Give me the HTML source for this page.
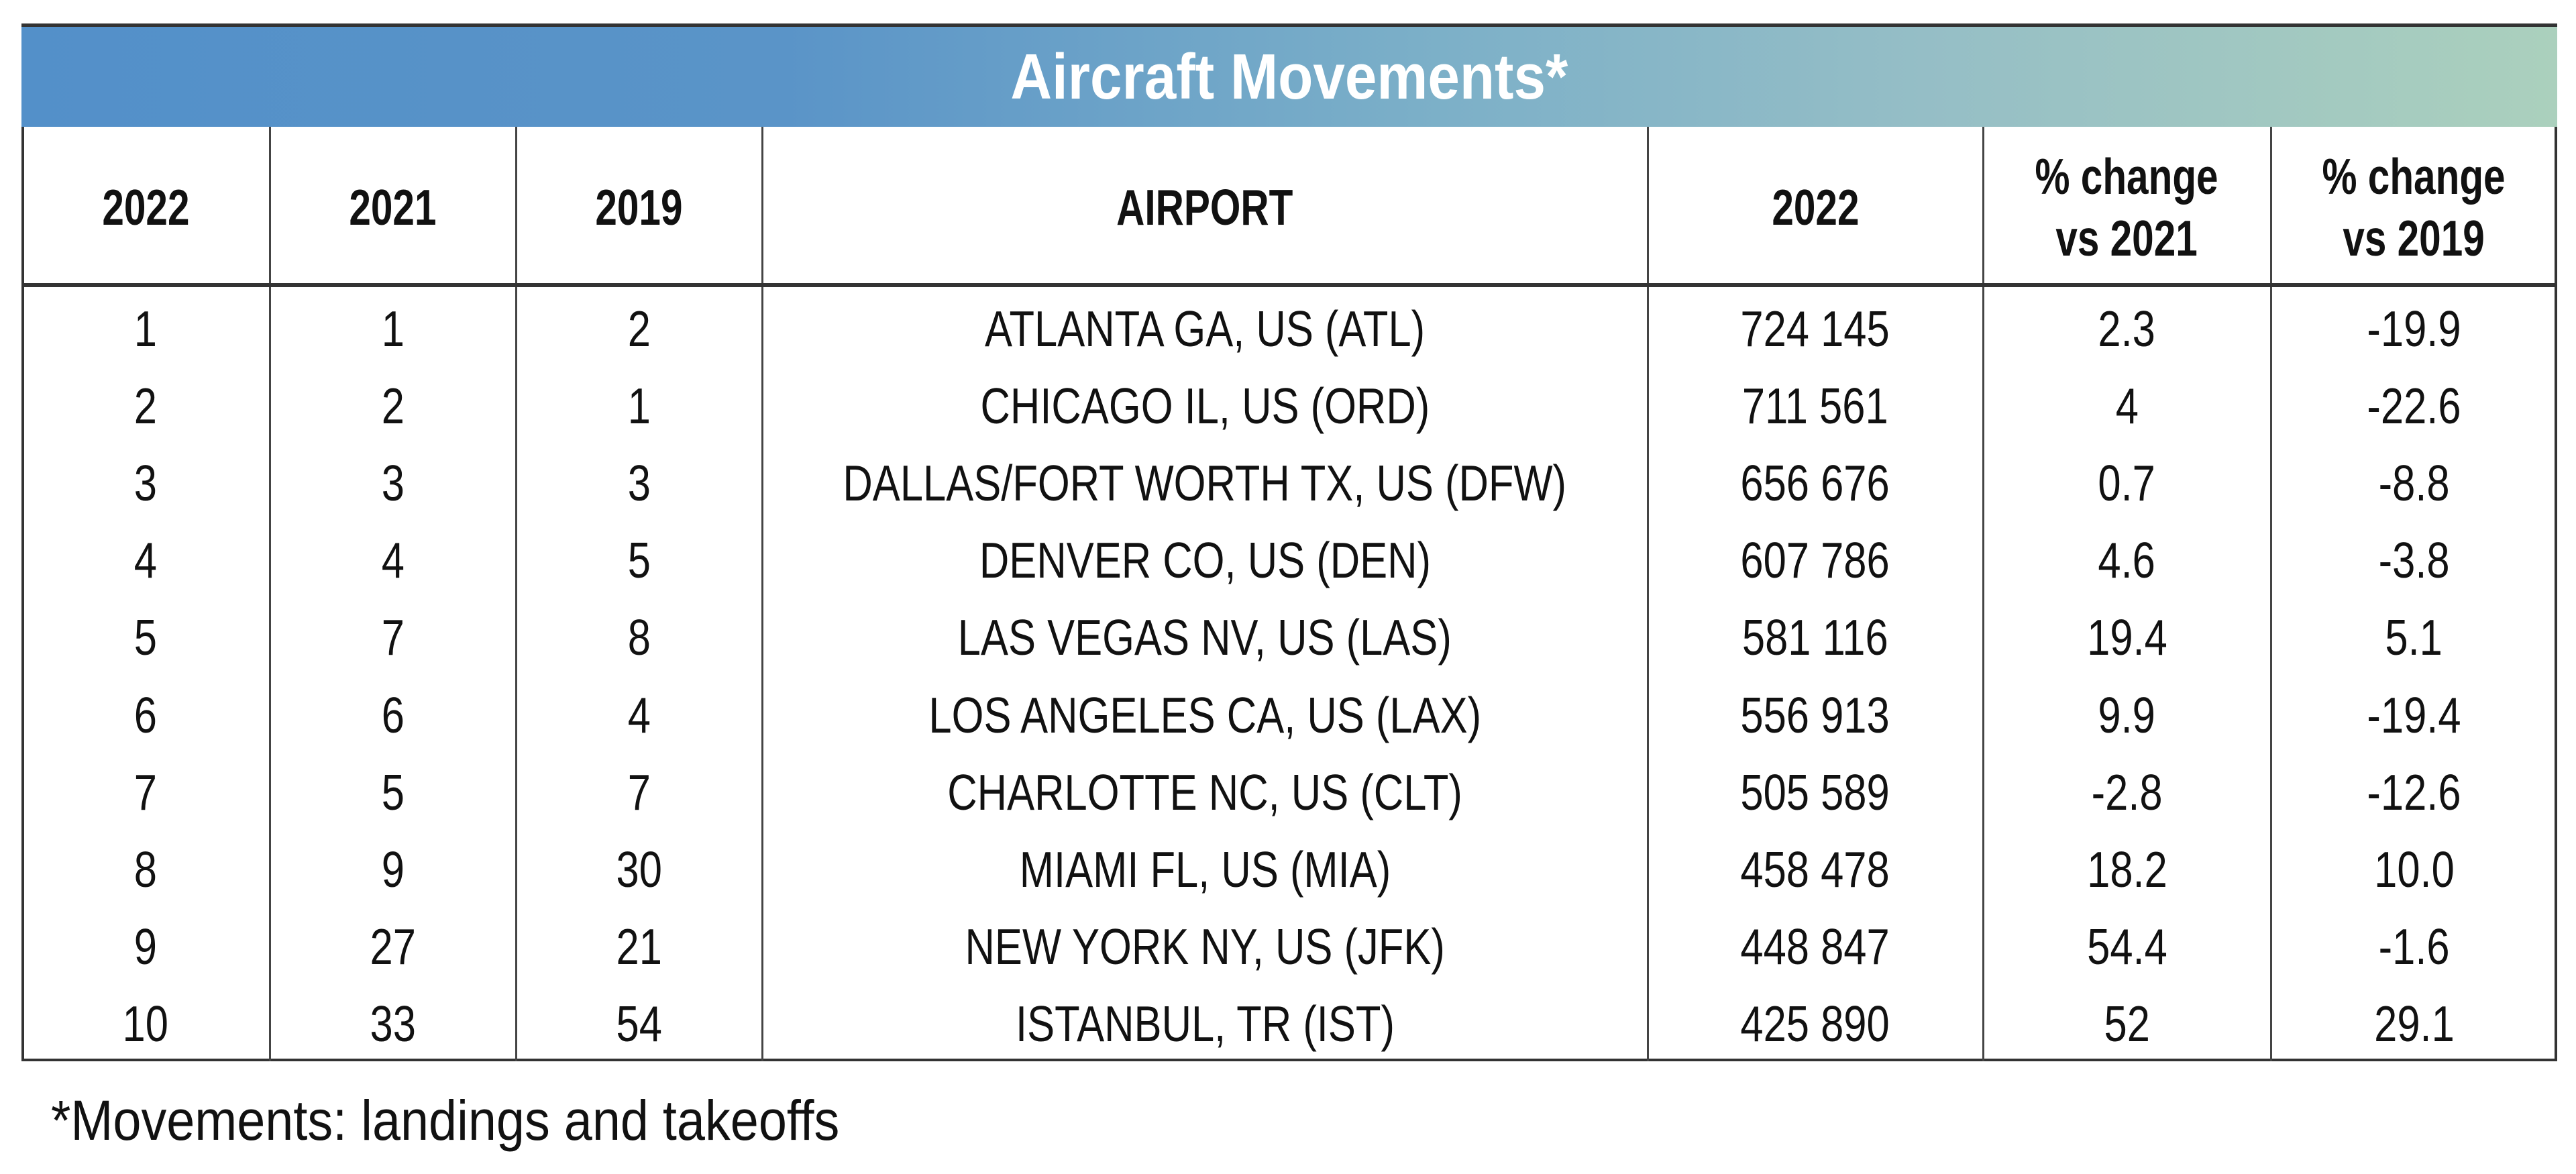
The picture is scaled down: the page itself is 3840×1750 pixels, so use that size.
<!DOCTYPE html>
<html><head><meta charset="utf-8"><style>
html,body{margin:0;padding:0;background:#fff;}
body{width:3840px;height:1750px;position:relative;overflow:hidden;font-family:"Liberation Sans",sans-serif;color:#111;}
.band{position:absolute;left:32px;top:35px;width:3780px;height:154px;background:linear-gradient(90deg,#5390c9 0%,#5a94c8 30%,#7bafc8 55%,#95bec6 75%,#abd0bd 100%);border-top:5px solid #333;box-sizing:border-box;}
.title{position:absolute;left:0;right:0;top:0;height:150px;display:flex;align-items:center;justify-content:center;color:#fff;font-weight:bold;font-size:96px;}
.title span{display:inline-block;transform:scaleX(0.89);}
.tbl{position:absolute;left:32px;top:189px;width:3780px;height:1393px;border:4px solid #333;border-top:none;box-sizing:border-box;}
.vl{position:absolute;top:189px;height:1393px;width:3px;background:#444;}
.hl{position:absolute;left:32px;width:3780px;top:422px;height:6px;background:#333;}
.c{position:absolute;display:flex;align-items:center;justify-content:center;font-size:75px;white-space:nowrap;}
.c span{display:inline-block;transform:scaleX(0.82);}
.h{font-weight:bold;line-height:92px;text-align:center;}
.h span{transform:scaleX(0.78);}
.foot{position:absolute;left:76px;top:1622px;font-size:84px;white-space:nowrap;transform-origin:0 0;transform:scaleX(0.90);}
</style></head><body>
<div class="band"><div class="title"><span>Aircraft Movements*</span></div></div>
<div class="tbl"></div>
<div class="vl" style="left:401px"></div>
<div class="vl" style="left:768px"></div>
<div class="vl" style="left:1135px"></div>
<div class="vl" style="left:2455px"></div>
<div class="vl" style="left:2955px"></div>
<div class="vl" style="left:3384px"></div>
<div class="hl"></div>
<div id="cells"></div>
<div class="foot">*Movements: landings and takeoffs</div>
<script>
var cols=[[32,402],[402,769],[769,1136],[1136,2456],[2456,2956],[2956,3385],[3385,3812]];
var heads=["2022","2021","2019","AIRPORT","2022","% change<br>vs 2021","% change<br>vs 2019"];
var rows=[
["1","1","2","ATLANTA GA, US (ATL)","724 145","2.3","-19.9"],
["2","2","1","CHICAGO IL, US (ORD)","711 561","4","-22.6"],
["3","3","3","DALLAS/FORT WORTH TX, US (DFW)","656 676","0.7","-8.8"],
["4","4","5","DENVER CO, US (DEN)","607 786","4.6","-3.8"],
["5","7","8","LAS VEGAS NV, US (LAS)","581 116","19.4","5.1"],
["6","6","4","LOS ANGELES CA, US (LAX)","556 913","9.9","-19.4"],
["7","5","7","CHARLOTTE NC, US (CLT)","505 589","-2.8","-12.6"],
["8","9","30","MIAMI FL, US (MIA)","458 478","18.2","10.0"],
["9","27","21","NEW YORK NY, US (JFK)","448 847","54.4","-1.6"],
["10","33","54","ISTANBUL, TR (IST)","425 890","52","29.1"]];
var h="";
for(var j=0;j<7;j++){
h+='<div class="c h" style="left:'+cols[j][0]+'px;width:'+(cols[j][1]-cols[j][0])+'px;top:195px;height:228px"><span>'+heads[j]+'</span></div>';}
for(var i=0;i<10;i++){var cy=490+i*115.1;
for(var j=0;j<7;j++){
h+='<div class="c" style="left:'+cols[j][0]+'px;width:'+(cols[j][1]-cols[j][0])+'px;top:'+(cy-50)+'px;height:100px"><span>'+rows[i][j]+'</span></div>';}}
document.getElementById('cells').innerHTML=h;
</script>
</body></html>
